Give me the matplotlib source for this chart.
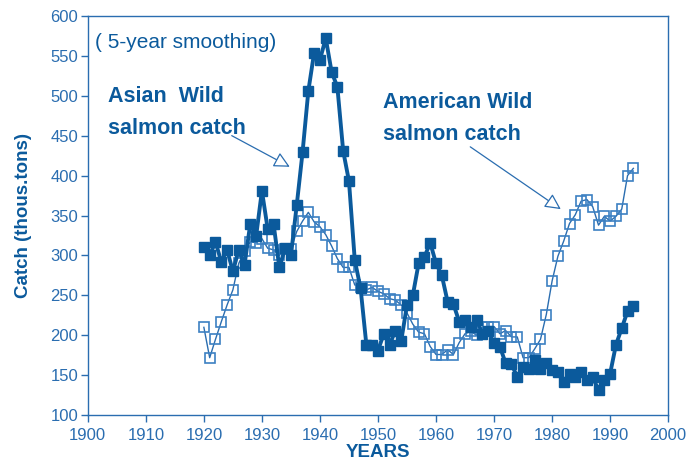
"""
Wild salmon catch, Asian vs American (5-year smoothing).
"""

import numpy as np
import matplotlib
matplotlib.use("Agg")
import matplotlib.pyplot as plt

# =============================================================================
# DATA
# =============================================================================
years = list(range(1920, 1995))

asian_catch = [
    310, 300, 317, 292, 307, 280, 307, 288, 340, 324,   # 1920-1929
    381, 333, 340, 285, 309, 300, 363, 429, 506, 554,   # 1930-1939
    545, 572, 530, 511, 431, 393, 294, 259, 188, 188,   # 1940-1949
    181, 202, 188, 206, 193, 238, 250, 290, 298, 316,   # 1950-1959
    290, 275, 242, 239, 217, 219, 211, 219, 202, 205,   # 1960-1969
    190, 186, 165, 164, 148, 160, 158, 169, 158, 165,   # 1970-1979
    156, 154, 142, 152, 148, 154, 144, 148, 131, 144,   # 1980-1989
    152, 188, 209, 230, 237,                            # 1990-1994
]

american_catch = [
    210, 172, 195, 217, 238, 257, 290, 305, 317, 316,   # 1920-1929
    321, 309, 307, 300, 308, 308, 330, 343, 354, 342,   # 1930-1939
    336, 326, 312, 296, 285, 285, 263, 261, 257, 260,   # 1940-1949
    255, 252, 246, 244, 238, 228, 214, 204, 202, 186,   # 1950-1959
    176, 176, 182, 176, 191, 202, 205, 200, 210, 211,   # 1960-1969
    211, 202, 206, 198, 198, 172, 172, 183, 195, 226,   # 1970-1979
    268, 299, 318, 340, 351, 368, 370, 361, 338, 349,   # 1980-1989
    343, 349, 358, 400, 409,                            # 1990-1994
]

x_ticks = list(range(1900, 2001, 10))
y_ticks = list(range(100, 601, 50))

# =============================================================================
# STYLE
# =============================================================================
DARK_BLUE = "#0b5a9c"
AXIS_BLUE = "#2a6db0"
LIGHT_BLUE = "#3c80c2"

plt.rcParams["font.family"] = ["Liberation Sans", "DejaVu Sans"]

fig = plt.figure(figsize=(6.86, 4.66), dpi=100)
ax = fig.add_axes([0.128, 0.109, 0.846, 0.857])

# American wild (open squares, thin line)
ax.plot(years, american_catch, color=AXIS_BLUE, lw=1.0, marker="s",
        markersize=7, markerfacecolor="none", markeredgecolor=LIGHT_BLUE,
        markeredgewidth=1.2, zorder=2)

# Asian wild (filled squares, heavy line)
ax.plot(years, asian_catch, color=DARK_BLUE, lw=2.8, marker="s",
        markersize=7.5, markerfacecolor=DARK_BLUE, markeredgecolor=DARK_BLUE,
        zorder=3)

ax.set_xlim(1900, 2000)
ax.set_ylim(100, 600)
ax.set_xticks(x_ticks)
ax.set_yticks(y_ticks)

for side in ["left", "bottom", "top", "right"]:
    ax.spines[side].set_color(AXIS_BLUE)
    ax.spines[side].set_linewidth(1.0)

ax.tick_params(axis="both", direction="out", length=5, width=1,
               color=AXIS_BLUE, labelcolor=AXIS_BLUE, labelsize=12)
ax.tick_params(axis="x", pad=4)
ax.tick_params(axis="y", pad=2)
ax.tick_params(top=False, right=False)

ax.set_xlabel("YEARS", fontsize=13.5, fontweight="bold", color=DARK_BLUE,
              labelpad=1)
ax.set_ylabel("Catch (thous.tons)", fontsize=13.5, fontweight="bold",
              color=DARK_BLUE, labelpad=13)

# Annotations
ax.text(1901.2, 567, "( 5-year smoothing)", fontsize=15, color=DARK_BLUE,
        va="center", ha="left")

label_kw = dict(fontsize=15.5, fontweight="bold", color=DARK_BLUE,
                va="center", ha="left")
ax.text(1903.4, 498.5, "Asian  Wild", **label_kw)
ax.text(1903.4, 459.5, "salmon catch", **label_kw)
ax.text(1950.9, 491, "American Wild", **label_kw)
ax.text(1950.9, 451, "salmon catch", **label_kw)

arrow_style = dict(arrowstyle="-|>", fc="white", ec=AXIS_BLUE, lw=0.9,
                   mutation_scale=24, shrinkA=0, shrinkB=0)
ax.annotate("", xy=(1934.8, 411), xytext=(1924.8, 450),
            arrowprops=arrow_style)
ax.annotate("", xy=(1981.5, 358), xytext=(1965.9, 436),
            arrowprops=arrow_style)

fig.savefig("out.png", dpi=100)
